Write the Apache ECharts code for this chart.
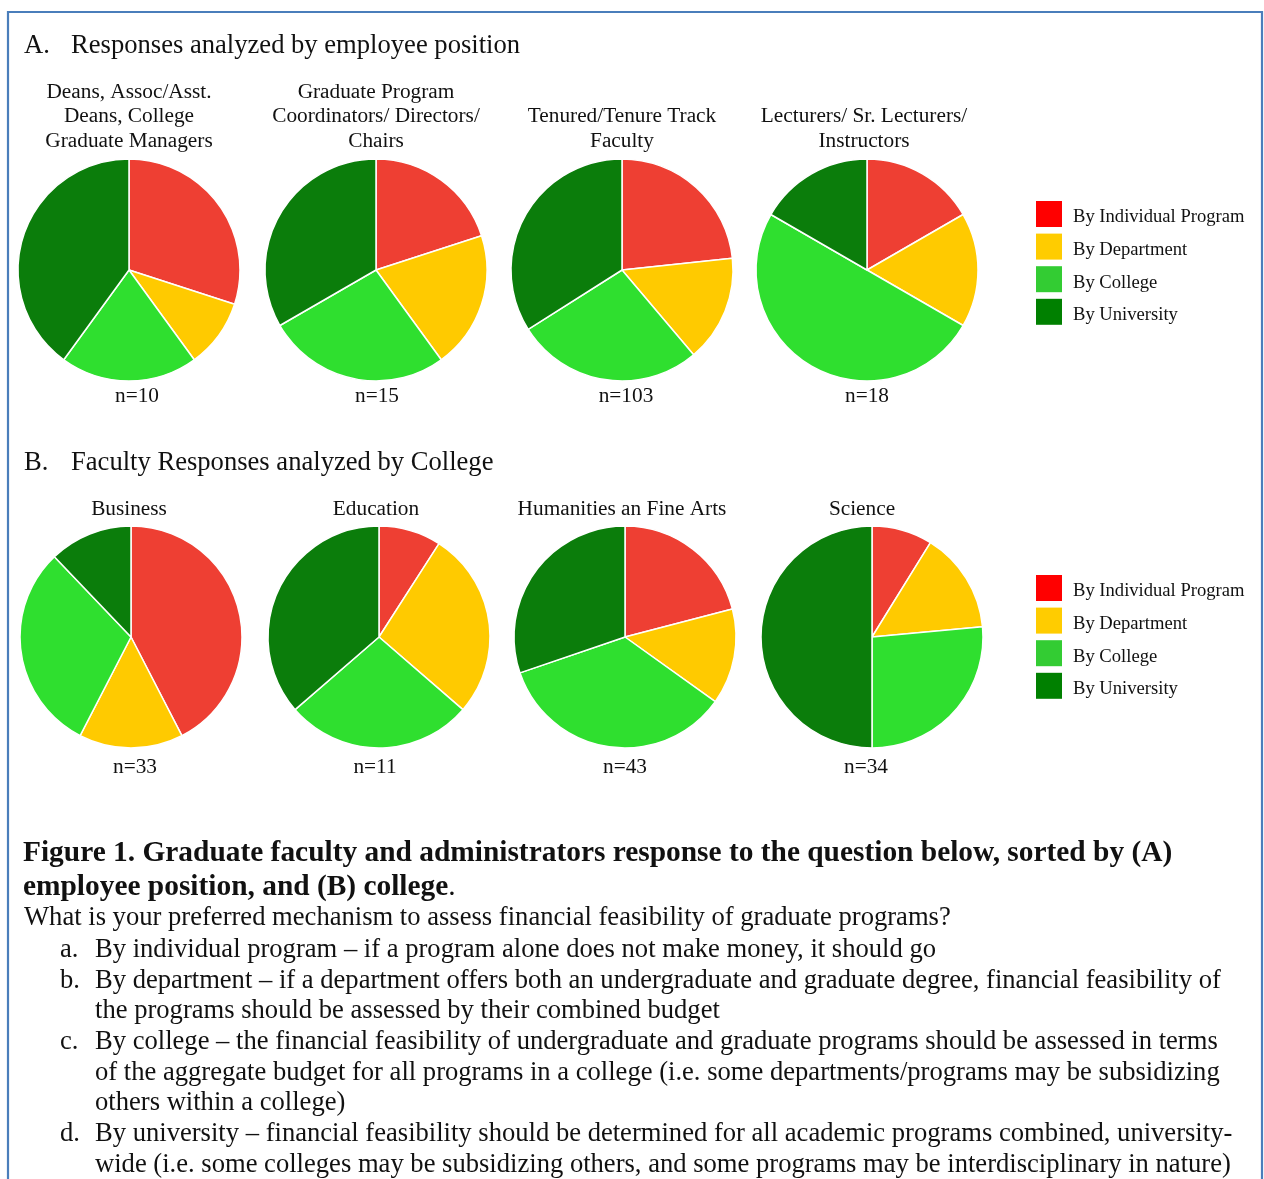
<!DOCTYPE html>
<html>
<head>
<meta charset="utf-8">
<script src="https://cdn.jsdelivr.net/npm/echarts@6/dist/echarts.min.js"></script>
<style>
html,body{margin:0;padding:0;background:#fff;}
#main{width:1264px;height:1179px;}
</style>
</head>
<body>
<div id="main"></div>
<script>
// ---- Data ----
const categories = ['By Individual Program', 'By Department', 'By College', 'By University'];
const sliceColors = ['#EE3F33', '#FFCA00', '#2FDF2F', '#0B7D0B'];
const legendColors = ['#FF0000', '#FFCC00', '#33CC33', '#008000'];

const sectionA = 'Responses analyzed by employee position';
const sectionB = 'Faculty Responses analyzed by College';

const positionTitles = ['Deans, Assoc/Asst.\nDeans, College\nGraduate Managers',
  'Graduate Program\nCoordinators/ Directors/\nChairs',
  'Tenured/Tenure Track\nFaculty',
  'Lecturers/ Sr. Lecturers/\nInstructors'];
const positionN = [10, 15, 103, 18];
const deans = [3, 1, 2, 4];
const gradCoordinators = [3, 3, 4, 5];
const tenured = [24, 16, 28, 35];
const lecturers = [3, 3, 9, 3];

const collegeTitles = ['Business', 'Education', 'Humanities an Fine Arts', 'Science'];
const collegeN = [33, 11, 43, 34];
const business = [14, 5, 10, 4];
const education = [1, 3, 3, 4];
const humanities = [9, 6, 15, 13];
const science = [3, 5, 9, 17];

const captionBold1 = 'Figure 1. Graduate faculty and administrators response to the question below, sorted by (A)';
const captionBold2 = 'employee position, and (B) college';
const question = 'What is your preferred mechanism to assess financial feasibility of graduate programs?';
const listItems = [
  ['a.', ['By individual program \u2013 if a program alone does not make money, it should go']],
  ['b.', ['By department \u2013 if a department offers both an undergraduate and graduate degree, financial feasibility of',
          'the programs should be assessed by their combined budget']],
  ['c.', ['By college \u2013 the financial feasibility of undergraduate and graduate programs should be assessed in terms',
          'of the aggregate budget for all programs in a college (i.e. some departments/programs may be subsidizing',
          'others within a college)']],
  ['d.', ['By university \u2013 financial feasibility should be determined for all academic programs combined, university-',
          'wide (i.e. some colleges may be subsidizing others, and some programs may be interdisciplinary in nature)']]
];

// ---- Layout ----
const FONT = '"Liberation Serif", "Times New Roman", serif';
const BODY = '26.6px ' + FONT;
const BOLD = 'bold 29.4px ' + FONT;
const SMALL = '21.3px ' + FONT;
const rowA = { cy: 270, cxs: [129, 376, 622, 867] };
const rowB = { cy: 637, cxs: [131, 379, 625, 872] };
const R = 111;

const chart = echarts.init(document.getElementById('main'), null, { renderer: 'canvas' });

function pieSeries(values, cx, cy) {
  return {
    type: 'pie',
    center: [cx, cy],
    radius: [0, R],
    startAngle: 90,
    clockwise: true,
    silent: true,
    animation: false,
    label: { show: false },
    labelLine: { show: false },
    itemStyle: { borderColor: '#ffffff', borderWidth: 1.5 },
    data: categories.map((c, i) => ({ name: c, value: values[i], itemStyle: { color: sliceColors[i] } }))
  };
}

const series = [];
[deans, gradCoordinators, tenured, lecturers].forEach((v, i) => series.push(pieSeries(v, rowA.cxs[i], rowA.cy)));
[business, education, humanities, science].forEach((v, i) => series.push(pieSeries(v, rowB.cxs[i], rowB.cy)));

const graphic = [];
// frame
graphic.push({ type: 'rect', shape: { x: 8, y: 12, width: 1254, height: 1200 }, style: { fill: 'none', stroke: '#4A7EBB', lineWidth: 2.2 }, silent: true });

function txt(x, y, text, opts) {
  graphic.push({
    type: 'text', x: x, y: y, silent: true,
    style: Object.assign({ text: text, font: BODY, fill: '#111', textAlign: 'left', textVerticalAlign: 'middle' }, opts || {})
  });
}

// section headings
txt(24, 46, 'A.');
txt(71, 46, sectionA);
txt(24, 463, 'B.');
txt(71, 463, sectionB);

// pie titles
const titleX_A = [129, 376, 622, 864];
positionTitles.forEach((t, i) => {
  const lines = t.split('\n').length;
  const lastCenter = 141;
  const top = lastCenter - (lines - 1) * 24.5 - 12.25;
  graphic.push({ type: 'text', x: titleX_A[i], y: top, silent: true,
    style: { text: t, font: SMALL, fill: '#111', textAlign: 'center', textVerticalAlign: 'top', lineHeight: 24.5 } });
});
const nX_A = [137, 377, 626, 867];
positionN.forEach((n, i) => txt(nX_A[i], 396, 'n=' + n, { font: SMALL, textAlign: 'center' }));

const titleX_B = [129, 376, 622, 862];
collegeTitles.forEach((t, i) => txt(titleX_B[i], 509, t, { font: SMALL, textAlign: 'center' }));
const nX_B = [135, 375, 625, 866];
collegeN.forEach((n, i) => txt(nX_B[i], 767, 'n=' + n, { font: SMALL, textAlign: 'center' }));

// caption
txt(23, 853, captionBold1, { font: BOLD });
graphic.push({ type: 'text', x: 23, y: 887, silent: true,
  style: { text: '{b|' + captionBold2 + '}{n|.}', textVerticalAlign: 'middle', fill: '#111',
    rich: { b: { font: BOLD, fill: '#111' }, n: { font: '29.4px ' + FONT, fill: '#111' } } } });
txt(24, 918, question);
let ly = 950;
listItems.forEach(([lab, lines]) => {
  txt(60, ly, lab);
  lines.forEach(l => { txt(95, ly, l); ly += 30.7; });
});

function legendFor(top) {
  return {
    orient: 'vertical', left: 1036, top: top, padding: 0,
    icon: 'rect', itemWidth: 26, itemHeight: 26, itemGap: 6.6,
    selectedMode: false,
    formatter: '{t|{name}}',
    textStyle: {
      fontFamily: FONT, fontSize: 18.6, color: '#111',
      rich: { t: { fontFamily: FONT, fontSize: 18.6, color: '#111', padding: [7, 0, 0, 6] } }
    },
    data: categories.map((c, i) => ({ name: c, itemStyle: { color: legendColors[i], borderWidth: 0 } }))
  };
}

chart.setOption({
  animation: false,
  backgroundColor: '#ffffff',
  legend: [legendFor(201), legendFor(575)],
  series: series,
  graphic: graphic
});
</script>
</body>
</html>
